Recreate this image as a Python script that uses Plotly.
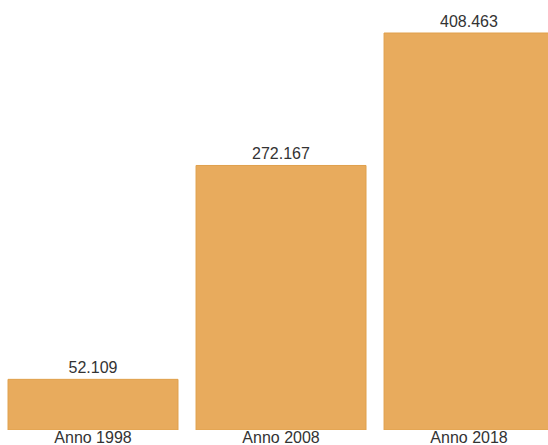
import plotly.graph_objects as go

# Data
categories = ["Anno 1998", "Anno 2008", "Anno 2018"]
values = [52109, 272167, 408463]

fig = go.Figure()
fig.add_trace(go.Bar(
    x=categories,
    y=values,
    marker=dict(color="#E8AB5D", line=dict(color="#E0A04C", width=1)),
    texttemplate="%{y:,}",
    textposition="outside",
    textfont=dict(family="Liberation Sans, Arial, sans-serif", size=16, color="#333333"),
    cliponaxis=False,
    hoverinfo="skip",
))

fig.update_layout(
    width=548,
    height=445,
    margin=dict(l=0, r=0, t=0, b=15),
    separators=",.",
    paper_bgcolor="white",
    plot_bgcolor="white",
    bargap=0.096,
    showlegend=False,
    font=dict(family="Liberation Sans, Arial, sans-serif", size=16, color="#333333"),
)
fig.update_xaxes(
    type="category",
    range=[-0.4947, 2.42],
    showgrid=False,
    showline=False,
    zeroline=False,
    ticks="",
    ticklabelstandoff=-4,
    tickfont=dict(size=16, color="#333333"),
)
fig.update_yaxes(
    range=[0, 442420],
    visible=False,
)

# drop the default body margin so the 548x445 figure fills the window
fig.write_html(
    "out.html",
    config={"displayModeBar": False},
    post_script="document.body.style.margin='0';",
)
